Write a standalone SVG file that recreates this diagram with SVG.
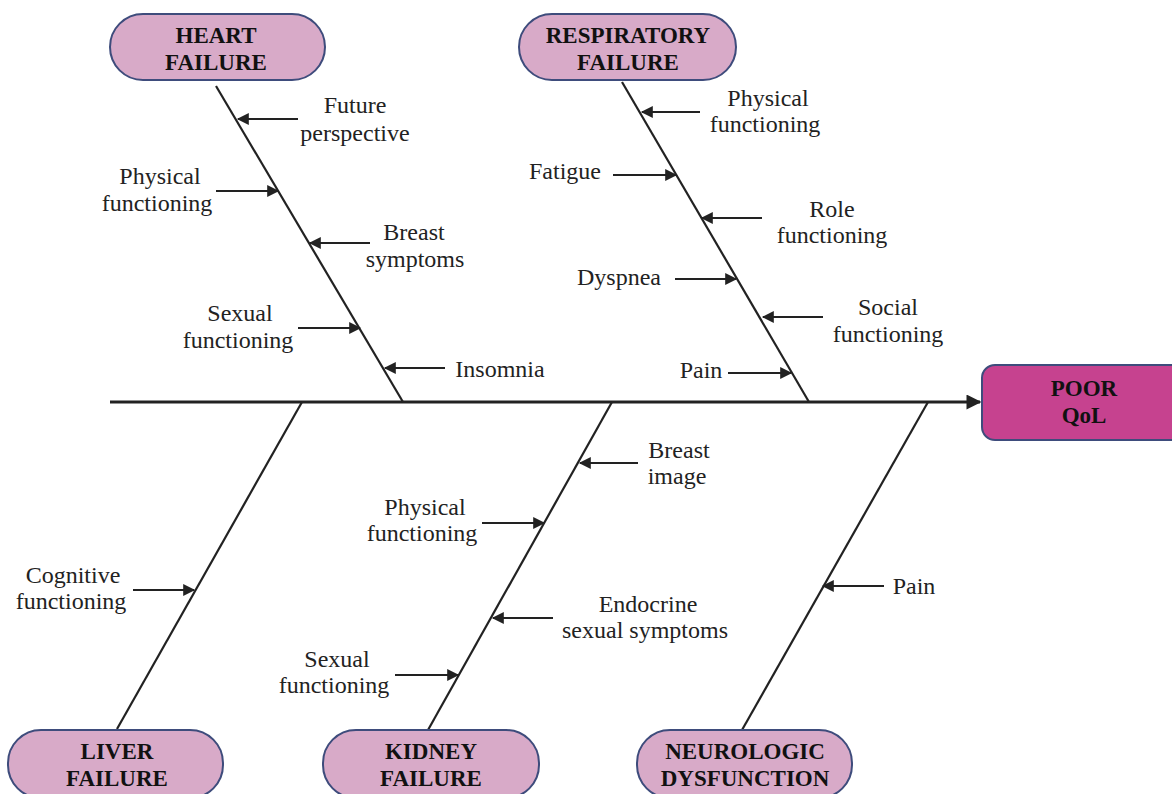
<svg xmlns="http://www.w3.org/2000/svg" width="1172" height="794" viewBox="0 0 1172 794">
<style>
.box{fill:#D8AAC8;stroke:#3E4C7C;stroke-width:2}
.qol{fill:#C6428F;stroke:#3E4C7C;stroke-width:2}
.bt{font-family:"Liberation Serif","Times New Roman",serif;font-weight:bold;font-size:23px;fill:#111;text-anchor:middle}
.t{font-family:"Liberation Serif","Times New Roman",serif;font-size:24px;fill:#222;text-anchor:middle}
.bone{stroke:#222;stroke-width:2.2;fill:none}
.arr{stroke:#222;stroke-width:2.2;fill:none;marker-end:url(#ah)}
</style>
<defs>
<marker id="ah" viewBox="0 0 10 10" refX="9" refY="5" markerWidth="14" markerHeight="12" markerUnits="userSpaceOnUse" orient="auto"><path d="M0,0 L10,5 L0,10 z" fill="#222"/></marker>
<marker id="ahb" viewBox="0 0 10 10" refX="9" refY="5" markerWidth="18" markerHeight="15" markerUnits="userSpaceOnUse" orient="auto"><path d="M0,0 L10,5 L0,10 z" fill="#222"/></marker>
</defs>
<rect width="1172" height="794" fill="#fff"/>
<g id="connectors">
<line x1="110" y1="402" x2="980" y2="402" stroke="#222" stroke-width="3" marker-end="url(#ahb)"/>
<line class="bone" x1="216" y1="86" x2="403" y2="402"/>
<line class="bone" x1="622" y1="82" x2="809" y2="402"/>
<line class="bone" x1="302" y1="402" x2="117" y2="729"/>
<line class="bone" x1="612" y1="402" x2="428" y2="730"/>
<line class="bone" x1="928" y1="402" x2="742" y2="730"/>
<line class="arr" x1="298" y1="119" x2="238" y2="119"/>
<line class="arr" x1="216" y1="191" x2="278" y2="191"/>
<line class="arr" x1="370" y1="243" x2="310" y2="243"/>
<line class="arr" x1="298" y1="328" x2="360" y2="328"/>
<line class="arr" x1="445" y1="368" x2="385" y2="368"/>
<line class="arr" x1="700" y1="112" x2="642" y2="112"/>
<line class="arr" x1="613" y1="175" x2="676" y2="175"/>
<line class="arr" x1="762" y1="218" x2="702" y2="218"/>
<line class="arr" x1="675" y1="279" x2="736" y2="279"/>
<line class="arr" x1="823" y1="317" x2="763" y2="317"/>
<line class="arr" x1="728" y1="373" x2="791" y2="373"/>
<line class="arr" x1="638" y1="463" x2="580" y2="463"/>
<line class="arr" x1="482" y1="523" x2="544" y2="523"/>
<line class="arr" x1="553" y1="618" x2="493" y2="618"/>
<line class="arr" x1="395" y1="675" x2="458" y2="675"/>
<line class="arr" x1="133" y1="590" x2="194" y2="590"/>
<line class="arr" x1="884" y1="586" x2="823" y2="586"/>
</g>
<g id="heart-failure">
<rect class="box" x="110" y="14" width="215" height="66" rx="33"/>
<text class="bt" x="216" y="43">HEART</text>
<text class="bt" x="216" y="70">FAILURE</text>
</g>
<g id="respiratory-failure">
<rect class="box" x="519" y="14" width="217" height="66" rx="33"/>
<text class="bt" x="628" y="43">RESPIRATORY</text>
<text class="bt" x="628" y="70">FAILURE</text>
</g>
<g id="poor-qol">
<rect class="qol" x="982" y="365" width="206" height="75" rx="13"/>
<text class="bt" x="1084" y="396">POOR</text>
<text class="bt" x="1084" y="423">QoL</text>
</g>
<g id="liver-failure">
<rect class="box" x="8" y="730" width="215" height="68" rx="33"/>
<text class="bt" x="117" y="759">LIVER</text>
<text class="bt" x="117" y="786">FAILURE</text>
</g>
<g id="kidney-failure">
<rect class="box" x="323" y="730" width="216" height="68" rx="33"/>
<text class="bt" x="431" y="759">KIDNEY</text>
<text class="bt" x="431" y="786">FAILURE</text>
</g>
<g id="neurologic-dysfunction">
<rect class="box" x="637" y="730" width="215" height="68" rx="33"/>
<text class="bt" x="745" y="759">NEUROLOGIC</text>
<text class="bt" x="745" y="786">DYSFUNCTION</text>
</g>
<g id="labels">
<text class="t" x="355" y="113">Future</text>
<text class="t" x="355" y="141">perspective</text>
<text class="t" x="160" y="184">Physical</text>
<text class="t" x="157" y="211">functioning</text>
<text class="t" x="414" y="240">Breast</text>
<text class="t" x="415" y="267">symptoms</text>
<text class="t" x="240" y="321">Sexual</text>
<text class="t" x="238" y="348">functioning</text>
<text class="t" x="500" y="377">Insomnia</text>
<text class="t" x="768" y="106">Physical</text>
<text class="t" x="765" y="132">functioning</text>
<text class="t" x="565" y="179">Fatigue</text>
<text class="t" x="832" y="217">Role</text>
<text class="t" x="832" y="243">functioning</text>
<text class="t" x="619" y="285">Dyspnea</text>
<text class="t" x="888" y="315">Social</text>
<text class="t" x="888" y="342">functioning</text>
<text class="t" x="701" y="378">Pain</text>
<text class="t" x="679" y="458">Breast</text>
<text class="t" x="677" y="484">image</text>
<text class="t" x="425" y="515">Physical</text>
<text class="t" x="422" y="541">functioning</text>
<text class="t" x="648" y="612">Endocrine</text>
<text class="t" x="645" y="638">sexual symptoms</text>
<text class="t" x="337" y="667">Sexual</text>
<text class="t" x="334" y="693">functioning</text>
<text class="t" x="73" y="583">Cognitive</text>
<text class="t" x="71" y="609">functioning</text>
<text class="t" x="914" y="594">Pain</text>
</g>
</svg>
